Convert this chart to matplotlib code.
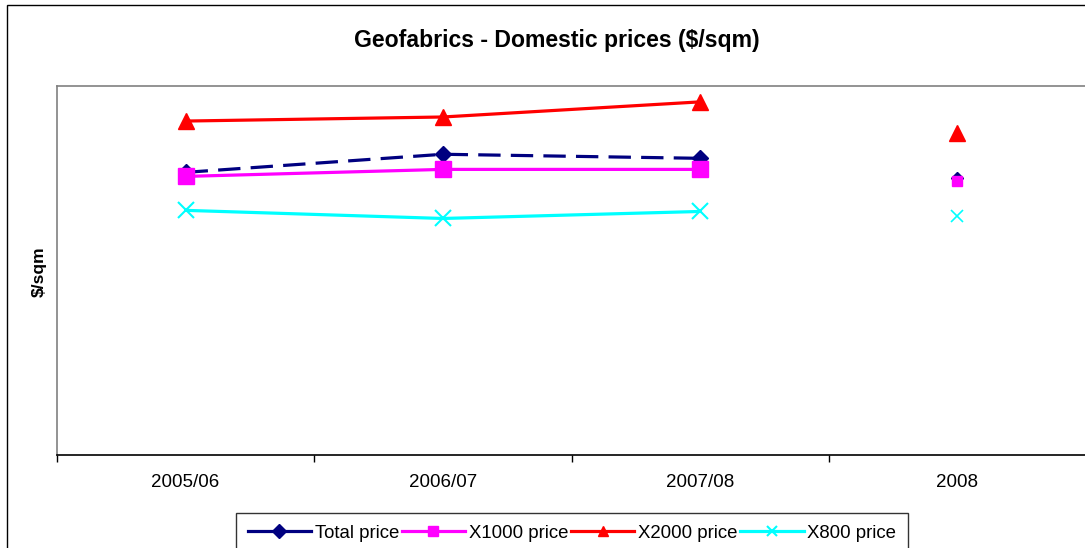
import matplotlib.pyplot as plt
from matplotlib.patches import Rectangle
import numpy as np

plt.rcParams['font.family'] = ['Liberation Sans', 'DejaVu Sans']

# Category labels and price series (2005/06 - 2007/08 joined, 2008 shown on its own)
years = ['2005/06', '2006/07', '2007/08', '2008']
series_names = ['Total price', 'X1000 price', 'X2000 price', 'X800 price']
total_price = [7.66, 8.15, 8.04, 7.50]
x1000_price = [7.55, 7.74, 7.74, 7.42]
x2000_price = [9.05, 9.16, 9.57, 8.72]
x800_price = [6.63, 6.41, 6.60, 6.47]

colors = ['#000080', '#FF00FF', '#FF0000', '#00FFFF']
markers = ['D', 's', '^', 'x']
sizes = [8, 11, 11, 12]
small_sizes = [6, 7, 11, 8]
styles = [(0, (7, 3.2)), '-', '-', '-']

W, H = 1085, 548
fig = plt.figure(figsize=(W / 100, H / 100), dpi=100)

# outer chart frame (runs off the right and bottom edges)
fig.patches.append(Rectangle((7 / W, -0.1), 1.2, (H - 5) / H + 0.1,
                             transform=fig.transFigure, fill=False,
                             edgecolor='black', linewidth=1.0))

ax = fig.add_axes([57 / W, (H - 455) / H, 1029 / W, 369 / H])

x = np.arange(len(years)) + 0.5
all_series = [total_price, x1000_price, x2000_price, x800_price]
for vals, name, c, m, ms, sms, ls in zip(all_series, series_names, colors,
                                         markers, sizes, small_sizes, styles):
    mew = 1.5 if m == 'x' else 1
    ax.plot(x[:3], vals[:3], color=c, marker=m, markersize=ms, linestyle=ls,
            linewidth=2.3, markeredgewidth=mew, label=name, clip_on=False)
    ax.plot(x[3:], vals[3:], color=c, marker=m, markersize=sms, linestyle='none',
            markeredgewidth=1.2 if m == 'x' else 1, clip_on=False)

ax.set_xlim(0, 4)
ax.set_ylim(0, 10)
ax.set_yticks([])

# category boundaries get tick marks, labels sit in the middle
ax.set_xticks(np.arange(5))
ax.set_xticklabels([])
ax.set_xticks(x, minor=True)
ax.set_xticklabels(years, minor=True, fontsize=13.5)
ax.tick_params(axis='x', which='major', direction='out', length=5, width=1, color='black')
ax.tick_params(axis='x', which='minor', length=0, pad=14)

ax.spines['left'].set_color('#808080')
ax.spines['top'].set_color('#808080')
ax.spines['bottom'].set_color('black')
ax.spines['right'].set_color('#808080')
for s in ax.spines.values():
    s.set_linewidth(1.2)

fig.text(557 / W, 1 - 41 / H, 'Geofabrics - Domestic prices ($/sqm)',
         ha='center', va='center', fontsize=16.6, fontweight='bold')
fig.text(39 / W, 1 - 272 / H, '$/sqm', ha='center', va='center',
         rotation=90, fontsize=12.5, fontweight='bold')

leg = fig.legend(loc='upper left', bbox_to_anchor=(236 / W, 1 - 513 / H), ncol=4,
                 fontsize=13.4, frameon=True, fancybox=False, handlelength=3.4,
                 handletextpad=0.2, columnspacing=0.15, borderpad=0.62,
                 borderaxespad=0)
leg.get_frame().set_edgecolor('black')
leg.get_frame().set_linewidth(1.0)
for h in leg.legend_handles:
    h.set_linestyle('-')
    h.set_markersize(7.5)

fig.savefig('out.png', dpi=100)
